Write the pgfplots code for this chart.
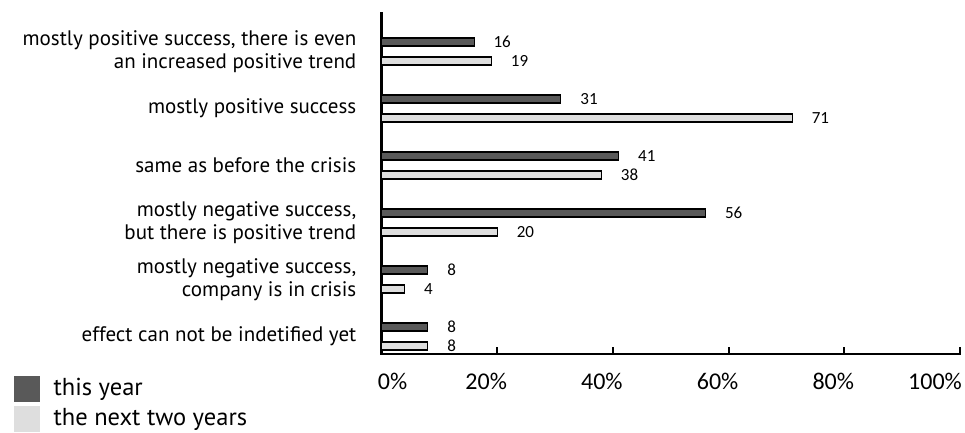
\documentclass[border=0pt]{standalone}
\usepackage{pgfplots}
\pgfplotsset{compat=1.18}
\usepackage{fontspec}
\setmainfont{PT Sans}
\newfontfamily\carlito{Carlito}
\definecolor{darkbar}{RGB}{89,89,89}
\definecolor{lightbar}{RGB}{222,222,222}
\begin{document}
\begin{tikzpicture}[x=1pt,y=1pt]
\path[use as bounding box] (0,0) rectangle (965,432);
\begin{axis}[
  at={(381.5pt,78pt)}, anchor=south west,
  scale only axis, width=578.5pt, height=340.7pt,
  xbar, bar width=8pt,
  xmin=0, xmax=100, ymin=-0.307, ymax=5.67,
  axis x line*=bottom, axis y line*=left,
  axis line style={line width=2.2pt, line cap=rect},
  /pgf/number format/assume math mode=true,
  xtick={0,20,40,60,80,100},
  xticklabels={\hspace*{44pt}0\%,20\%,40\%,60\%,80\%,100\%\hspace*{28pt}},
  xtick style={line width=2pt, black},
  tick align=inside, major tick length=7pt,
  xticklabel style={font=\carlito\fontsize{24}{28}\selectfont, inner sep=0pt, yshift=-19pt, xshift=-11pt},
  ytick={0,1,2,3,4,5},
  yticklabels={effect can not be indetified yet,
    {mostly negative success,\\company is in crisis},
    {mostly negative success,\\but there is positive trend},
    same as before the crisis,
    mostly positive success,
    {mostly positive success, there is even\\an increased positive trend}},
  ytick style={draw=none},
  yticklabel style={font=\fontsize{21}{23}\selectfont, align=right, inner sep=0pt, xshift=-25pt},
  nodes near coords,
  nodes near coords style={font=\carlito\fontsize{17}{19}\selectfont, anchor=west, inner sep=0pt, xshift=19pt, black},
  every node near coord/.append style={/pgf/number format/fixed},
  legend style={at={(-0.6353,-0.0646)}, anchor=north west, draw=none, fill=none, inner sep=0pt,
    row sep=4.5pt, font=\fontsize{24.5}{27}\selectfont,
    nodes={inner sep=0pt}, cells={anchor=base west},
    /tikz/every odd column/.append style={column sep=14pt}},
  clip=false,
]
\addplot[fill=darkbar, draw=black, line width=1.1pt, bar shift=9.5pt, forget plot]
  coordinates {(8,0) (8,1) (56,2) (41,3) (31,4) (16,5)};
\addplot[fill=lightbar, draw=black, line width=1.1pt, bar shift=-9.5pt, forget plot]
  coordinates {(8,0) (4,1) (20,2) (38,3) (71,4) (19,5)};
\addlegendimage{legend image code/.code={\fill[darkbar] (0pt,-6pt) rectangle (25pt,19pt);}}
\addlegendentry{this year}
\addlegendimage{legend image code/.code={\fill[lightbar] (0pt,-6pt) rectangle (25pt,19pt);}}
\addlegendentry{the next two years}
\end{axis}
\end{tikzpicture}
\end{document}
